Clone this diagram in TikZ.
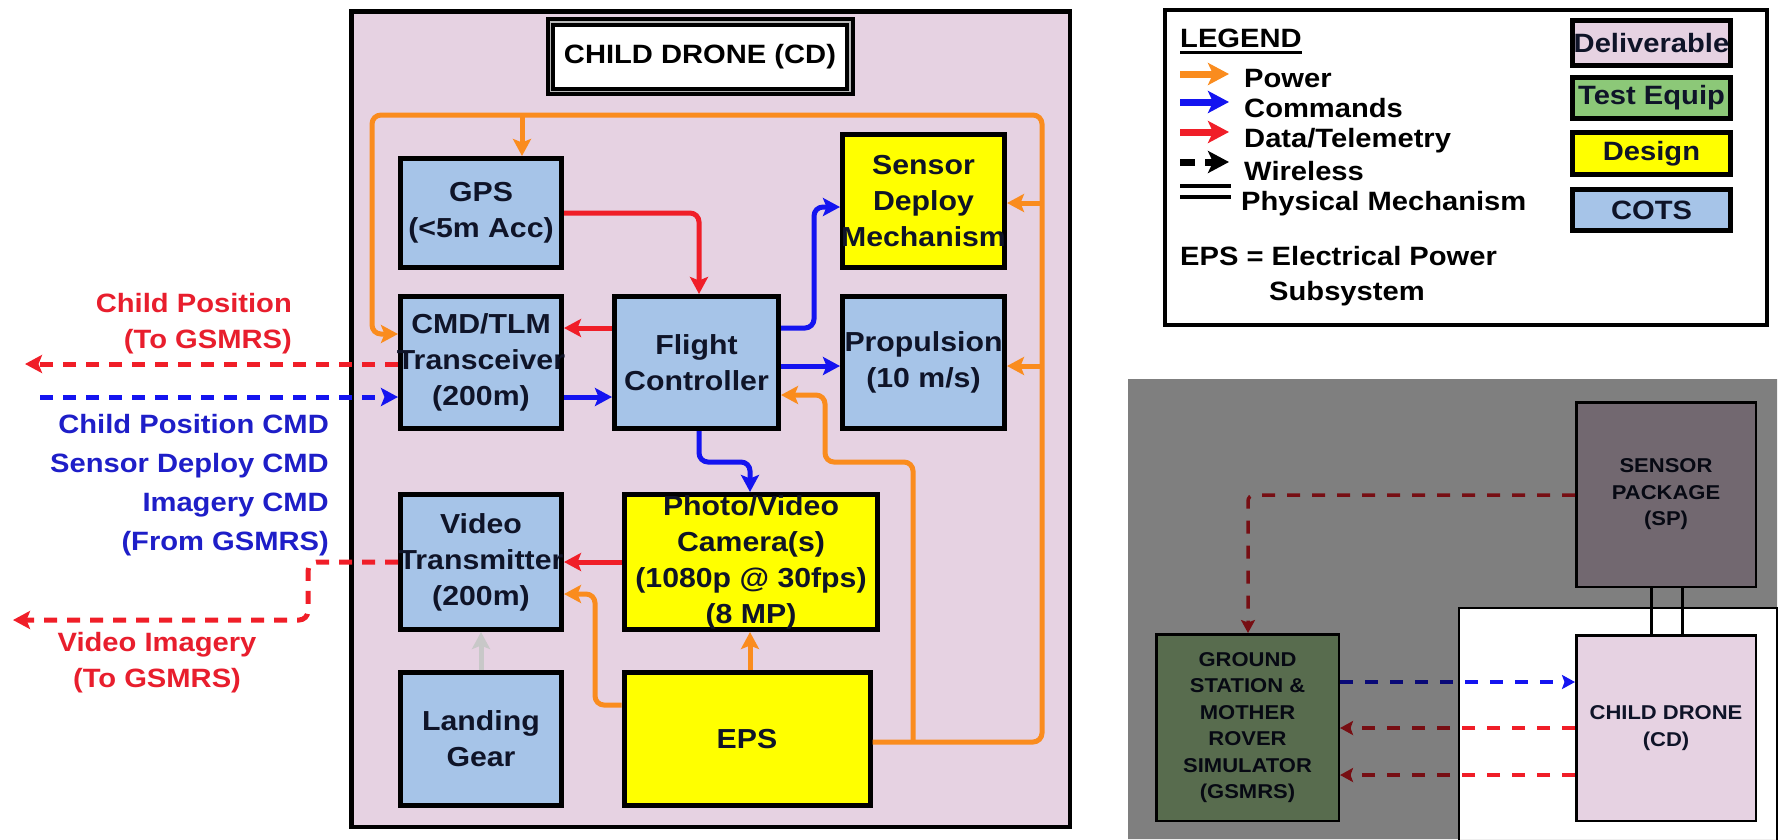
\documentclass[tikz,border=0pt]{standalone}
\usepackage{fontspec}
\setmainfont{Liberation Sans}[FakeStretch=1.1]
\usetikzlibrary{arrows.meta}

\definecolor{delivpink}{RGB}{230,210,226}
\definecolor{cotsblue}{RGB}{166,196,232}
\definecolor{dsgnyel}{RGB}{255,255,0}
\definecolor{testgrn}{RGB}{140,200,120}
\definecolor{gsmgrn}{RGB}{178,218,158}
\definecolor{pwrorg}{RGB}{250,140,30}
\definecolor{cmdblue}{RGB}{20,20,240}
\definecolor{datred}{RGB}{240,30,40}
\definecolor{boxtxt}{RGB}{15,20,40}
\definecolor{lgear}{RGB}{200,200,200}
\definecolor{lblred}{RGB}{232,30,45}
\definecolor{lblblue}{RGB}{30,30,200}

\newcommand\bxfont{\bfseries\fontsize{27.5}{36}\selectfont}
\newcommand\lbfont{\bfseries\fontsize{26.5}{36}\selectfont}
\newcommand\lgfont{\bfseries\fontsize{26.5}{30.5}\selectfont}
\newcommand\smfont{\bfseries\fontsize{20}{26.5}\selectfont}
% a word that may run over the box edge without widening the box
\newcommand\spill[1]{\makebox[0pt][c]{#1}}

\tikzset{
  blk/.style={draw=black, line width=5pt, inner sep=0pt, align=center, text=boxtxt, font=\bxfont},
  keybox/.style={draw=black, line width=5pt, inner sep=0pt, minimum width=158, text=boxtxt, font=\lgfont},
  brbox/.style={draw=black, line width=2.5pt, inner sep=0pt, align=center, text=boxtxt, font=\smfont},
  conn/.style={line width=5pt, rounded corners=9pt, -{Stealth[length=17pt,width=18pt,inset=3.5pt]}},
  pwrln/.style={conn, draw=pwrorg},
  cmdln/.style={conn, draw=cmdblue},
  datln/.style={conn, draw=datred},
  wless/.style={dash pattern=on 13pt off 10pt},
  legarr/.style={line width=7pt, -{Stealth[length=21pt,width=22pt,inset=5pt]}},
  brd/.style={line width=3.5pt, dash pattern=on 13pt off 12pt, rounded corners=6pt, -{Stealth[length=13pt,width=14pt,inset=2.5pt]}},
  lbl/.style={font=\lbfont, inner sep=0pt},
  lgtxt/.style={font=\lgfont, inner sep=0pt, anchor=base west},
}

\begin{document}
\begin{tikzpicture}[x=1pt,y=-1pt]
\useasboundingbox (0,0) rectangle (1785,839);

% ---------------- child drone block diagram ----------------
\node[draw=black, fill=delivpink, line width=4.5pt, inner sep=0pt,
      minimum width=718.5, minimum height=815.5] (cdframe) at (710.5,419) {};
\node[draw=black, fill=white, double=gray!55, line width=4pt, double distance=1.5pt,
      inner sep=0pt, minimum width=299.5, minimum height=69.5, font=\lbfont, text=black]
      (cdtitle) at (700,56.5) {CHILD DRONE (CD)};

\node[blk, fill=cotsblue, minimum width=161, minimum height=109] (gps) at (481,213) {GPS\\(<5m Acc)};
\node[blk, fill=cotsblue, minimum width=161, minimum height=132] (cmd) at (481,362.5) {CMD/TLM\\\spill{Transceiver}\\(200m)};
\node[blk, fill=cotsblue, minimum width=164, minimum height=132] (fc) at (696.5,362.5) {Flight\\Controller};
\node[blk, fill=dsgnyel, minimum width=162, minimum height=133] (sdm) at (923.5,201) {Sensor\\Deploy\\\spill{Mechanism}};
\node[blk, fill=cotsblue, minimum width=162, minimum height=132] (prop) at (923.5,362.5) {\spill{Propulsion}\\(10 m/s)};
\node[blk, fill=cotsblue, minimum width=161, minimum height=135] (vt) at (481,562) {Video\\\spill{Transmitter}\\(200m)};
\node[blk, fill=dsgnyel, minimum width=253, minimum height=135] (cam) at (751,562) {Photo/Video\\Camera(s)\\(1080p @ 30fps)\\(8 MP)};
\node[blk, fill=cotsblue, minimum width=161, minimum height=133] (lg) at (481,739) {Landing\\Gear};
\node[blk, fill=dsgnyel, minimum width=246, minimum height=133] (eps) at (747,739) {EPS};

% power distribution
\coordinate (jGps) at (522,115);
\coordinate (jSdm) at (1042,203);
\coordinate (jProp) at (1042,366);
\coordinate (jBus) at (913,742);
\draw[pwrln] (eps.east |- 0,742) -- (1042,742) -- (1042,115) -- (372,115) -- (372,334) -- (cmd.west |- 0,334);
\draw[pwrln] (jGps) -- (gps.north -| 522,0);
\draw[pwrln] (jSdm) -- (sdm.east |- 0,203);
\draw[pwrln] (jProp) -- (prop.east |- 0,366);
\draw[pwrln] (jBus) -- (913,462) -- (825,462) -- (825,395) -- (fc.east |- 0,395);
\draw[pwrln] (eps.north -| 750,0) -- (cam.south -| 750,0);
\draw[pwrln] (eps.west |- 0,705) -- (595,705) -- (595,594) -- (vt.east |- 0,594);

% data / telemetry
\draw[datln] (gps.east |- 0,213) -- (699,213) -- (fc.north -| 699,0);
\draw[datln] (fc.west |- 0,328) -- (cmd.east |- 0,328);
\draw[datln] (cam.west |- 0,562) -- (vt.east |- 0,562);

% commands
\draw[cmdln] (cmd.east |- 0,397) -- (fc.west |- 0,397);
\draw[cmdln] (fc.east |- 0,366) -- (prop.west |- 0,366);
\draw[cmdln] (fc.east |- 0,328) -- (814,328) -- (814,207) -- (sdm.west |- 0,207);
\draw[cmdln] (fc.south -| 699,0) -- (699,462) -- (750,462) -- (cam.north -| 750,0);

% landing gear mount
\draw[conn, draw=lgear] (lg.north) -- (vt.south);

% wireless links to the ground station
\coordinate (cpTip) at (25,364);
\coordinate (cmdTail) at (40,397);
\coordinate (viTip) at (13,620);
\draw[datln, wless] (cmd.west |- 0,364) -- (cpTip);
\draw[cmdln, wless] (cmdTail) -- (cmd.west |- 0,397);
\draw[datln, wless] (vt.west |- 0,562) -- (308,562) -- (308,620) -- (viTip);

\node[lbl, text=lblred, align=right, anchor=east] (cplbl) at (292,324) {Child Position\\(To GSMRS)};
\node[lbl, text=lblblue, align=right, anchor=east, font=\bfseries\fontsize{26.5}{39}\selectfont] (cmdlbl) at (329,485) {Child Position CMD\\Sensor Deploy CMD\\Imagery CMD\\(From GSMRS)};
\node[lbl, text=lblred, align=center] (vilbl) at (157,663) {Video Imagery\\(To GSMRS)};

% ---------------- legend ----------------
\node[draw=black, fill=white, line width=4pt, inner sep=0pt, minimum width=602, minimum height=315] (legbox) at (1466,167.5) {};
\node[lgtxt] (legttl) at (1180,47) {LEGEND};
\draw[line width=2.5pt] (legttl.west |- 0,52.5) -- (legttl.east |- 0,52.5);

\coordinate (pwA) at (1180,74);  \coordinate (pwB) at (1229,74);
\coordinate (cmA) at (1180,102); \coordinate (cmB) at (1229,102);
\coordinate (dtA) at (1180,132); \coordinate (dtB) at (1229,132);
\coordinate (wlA) at (1180,162); \coordinate (wlB) at (1229,162);
\coordinate (phA) at (1180,186); \coordinate (phB) at (1231,186);
\coordinate (phC) at (1180,197); \coordinate (phD) at (1231,197);
\draw[legarr, draw=pwrorg] (pwA) -- (pwB);
\draw[legarr, draw=cmdblue] (cmA) -- (cmB);
\draw[legarr, draw=datred] (dtA) -- (dtB);
\draw[legarr, draw=black, dash pattern=on 15pt off 10pt] (wlA) -- (wlB);
\draw[line width=4pt] (phA) -- (phB);
\draw[line width=4pt] (phC) -- (phD);

\node[lgtxt] (tPow) at (1244,87) {Power};
\node[lgtxt] (tCmd) at (1244,117) {Commands};
\node[lgtxt] (tDat) at (1244,147) {Data/Telemetry};
\node[lgtxt] (tWir) at (1244,180) {Wireless};
\node[lgtxt] (tPhy) at (1241,210) {Physical Mechanism};
\node[lgtxt] (tEps1) at (1180,265) {EPS = Electrical Power};
\node[lgtxt] (tEps2) at (1269,300) {Subsystem};

\node[keybox, fill=delivpink, minimum height=45] (kDel) at (1651.5,43) {Deliverable};
\node[keybox, fill=testgrn, minimum height=41] (kTest) at (1651.5,98) {Test Equip};
\node[keybox, fill=dsgnyel, minimum height=42] (kDes) at (1651.5,153.5) {Design};
\node[keybox, fill=cotsblue, minimum height=41] (kCots) at (1651.5,210) {COTS};

% ---------------- system context ----------------
\node[brbox, fill=gsmgrn, minimum width=182.5, minimum height=186.5] (gsm) at (1247.5,727.5)
  {GROUND\\STATION \&\\MOTHER\\ROVER\\SIMULATOR\\(GSMRS)};
\node[brbox, fill=delivpink, minimum width=179.5, minimum height=184.5] (sp) at (1666,494.5)
  {SENSOR\\PACKAGE\\(SP)};
\node[brbox, fill=delivpink, minimum width=179.5, minimum height=185.5] (cdn) at (1666,728)
  {CHILD DRONE\\(CD)};

\draw[line width=3pt] (sp.south -| 1651,0) -- (cdn.north -| 1651,0);
\draw[line width=3pt] (sp.south -| 1682,0) -- (cdn.north -| 1682,0);

\draw[brd, draw=datred] (sp.west |- 0,495) -- (1248,495) -- (gsm.north -| 1248,0);
\draw[brd, draw=cmdblue] (gsm.east |- 0,682) -- (cdn.west |- 0,682);
\draw[brd, draw=datred] (cdn.west |- 0,728) -- (gsm.east |- 0,728);
\draw[brd, draw=datred] (cdn.west |- 0,775) -- (gsm.east |- 0,775);

% shade everything except the child drone area
\fill[black, fill opacity=0.5, even odd rule] (1128,379) rectangle (1777,839) (1459,608) rectangle (1777,839);
\draw[line width=2pt] (1459,841) -- (1459,608) -- (1777,608) -- (1777,841);

\end{tikzpicture}
\end{document}
